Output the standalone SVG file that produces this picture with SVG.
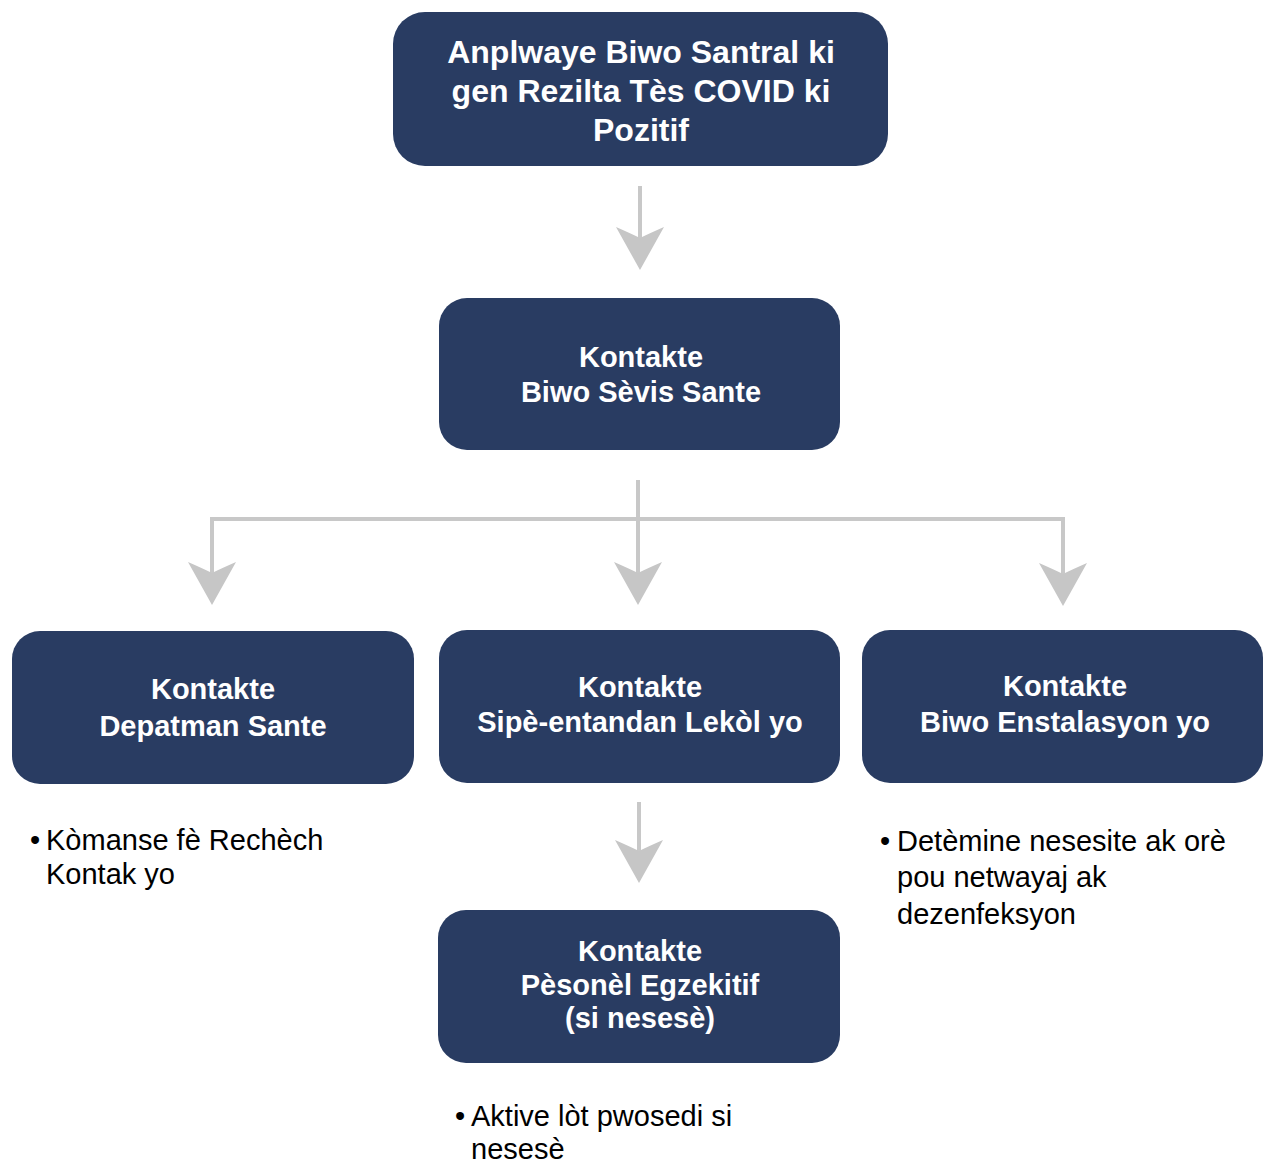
<svg xmlns="http://www.w3.org/2000/svg" width="1263" height="1166" viewBox="0 0 1263 1166">
<style>
.box{fill:#293c62;}
.bt{font-family:"Liberation Sans",Arial,sans-serif;font-weight:bold;fill:#ffffff;text-anchor:middle;font-size:29px;}
.bt1{font-size:32px;}
.note{font-family:"Liberation Sans",Arial,sans-serif;fill:#000000;font-size:29px;}
.conn{fill:none;stroke:#c8c8c8;stroke-width:4;}
</style>
<defs>
<marker id="ah" viewBox="-44 -26 46 52" refX="-20" refY="0" markerWidth="46" markerHeight="52" markerUnits="userSpaceOnUse" orient="auto">
<path d="M0,0 L-43,-24 Q-36,-8 -32,0 Q-36,8 -43,24 Z" fill="#c6c6c6"/>
</marker>
</defs>
<rect width="1263" height="1166" fill="#ffffff"/>
<g id="connectors">
<path class="conn" d="M640,186 V250" marker-end="url(#ah)"/>
<path class="conn" d="M638,480 V585" marker-end="url(#ah)"/>
<path class="conn" d="M638,519 H212 V585" marker-end="url(#ah)"/>
<path class="conn" d="M638,519 H1063 V586" marker-end="url(#ah)"/>
<path class="conn" d="M639,802 V863" marker-end="url(#ah)"/>
</g>
<g id="n-top">
<rect class="box" x="393" y="12" width="495" height="154" rx="32"/>
<text class="bt bt1" x="641" y="63">Anplwaye Biwo Santral ki</text>
<text class="bt bt1" x="641" y="102">gen Rezilta Tès COVID ki</text>
<text class="bt bt1" x="641" y="141">Pozitif</text>
</g>
<g id="n-sante">
<rect class="box" x="439" y="298" width="401" height="152" rx="28"/>
<text class="bt" x="641" y="367">Kontakte</text>
<text class="bt" x="641" y="402">Biwo Sèvis Sante</text>
</g>
<g id="n-depatman">
<rect class="box" x="12" y="631" width="402" height="153" rx="28"/>
<text class="bt" x="213" y="699">Kontakte</text>
<text class="bt" x="213" y="736">Depatman Sante</text>
</g>
<g id="n-lekol">
<rect class="box" x="439" y="630" width="401" height="153" rx="28"/>
<text class="bt" x="640" y="697">Kontakte</text>
<text class="bt" x="640" y="732">Sipè-entandan Lekòl yo</text>
</g>
<g id="n-enstalasyon">
<rect class="box" x="862" y="630" width="401" height="153" rx="28"/>
<text class="bt" x="1065" y="696">Kontakte</text>
<text class="bt" x="1065" y="732">Biwo Enstalasyon yo</text>
</g>
<g id="n-egzekitif">
<rect class="box" x="438" y="910" width="402" height="153" rx="28"/>
<text class="bt" x="640" y="961">Kontakte</text>
<text class="bt" x="640" y="995">Pèsonèl Egzekitif</text>
<text class="bt" x="640" y="1028">(si nesesè)</text>
</g>
<g id="note-depatman">
<text class="note" x="30" y="850">•</text>
<text class="note" x="46" y="850">Kòmanse fè Rechèch</text>
<text class="note" x="46" y="884">Kontak yo</text>
</g>
<g id="note-enstalasyon">
<text class="note" x="880" y="851">•</text>
<text class="note" x="897" y="851">Detèmine nesesite ak orè</text>
<text class="note" x="897" y="887">pou netwayaj ak</text>
<text class="note" x="897" y="924">dezenfeksyon</text>
</g>
<g id="note-egzekitif">
<text class="note" x="455" y="1126">•</text>
<text class="note" x="471" y="1126">Aktive lòt pwosedi si</text>
<text class="note" x="471" y="1159">nesesè</text>
</g>
</svg>
